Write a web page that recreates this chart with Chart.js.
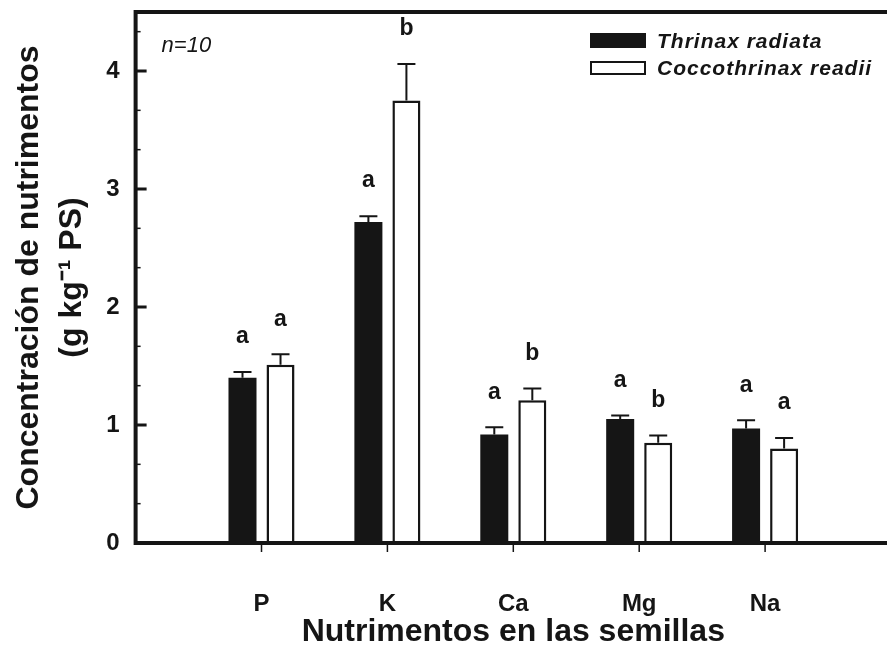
<!DOCTYPE html>
<html>
<head>
<meta charset="utf-8">
<script src="https://cdn.jsdelivr.net/npm/chart.js@4.4.0/dist/chart.umd.min.js"></script>
<style>
  html, body { margin: 0; padding: 0; background: #fff; overflow: hidden; }
  #wrap { width: 891px; height: 655px; }
</style>
</head>
<body>
<div id="wrap"><canvas id="nutriChart"></canvas></div>
<script>
const categories = ['P', 'K', 'Ca', 'Mg', 'Na'];
const thrinaxValues = [1.40, 2.72, 0.92, 1.05, 0.97];
const thrinaxErrors = [0.05, 0.05, 0.06, 0.03, 0.07];
const thrinaxLetters = ['a', 'a', 'a', 'a', 'a'];
const coccoValues = [1.51, 3.75, 1.21, 0.85, 0.80];
const coccoErrors = [0.09, 0.31, 0.10, 0.06, 0.09];
const coccoLetters = ['a', 'b', 'b', 'b', 'a'];
const yMax = 4.5;

const FONT = "'Liberation Sans', Arial, Helvetica, sans-serif";
const INK = '#151515';
Chart.defaults.font.family = FONT;
Chart.defaults.color = INK;

// the original axis leaves one empty slot on each side
const pad = arr => [null, ...arr, null];

const decorations = {
    id: 'decorations',
    afterDatasetsDraw(chart) {
        const { ctx, chartArea: a, scales: { x, y } } = chart;
        ctx.save();
        ctx.strokeStyle = INK;
        ctx.fillStyle = INK;
        ctx.lineCap = 'butt';

        // error bars (upper side only) and significance letters
        chart.data.datasets.forEach((ds, di) => {
            const meta = chart.getDatasetMeta(di);
            meta.data.forEach((bar, i) => {
                if (ds.data[i] == null) return;
                const top = y.getPixelForValue(ds.data[i] + ds.errors[i]);
                ctx.lineWidth = 2;
                ctx.beginPath();
                ctx.moveTo(bar.x, bar.y);
                ctx.lineTo(bar.x, top);
                ctx.moveTo(bar.x - 9, top);
                ctx.lineTo(bar.x + 9, top);
                ctx.stroke();
                ctx.font = `bold 23px ${FONT}`;
                ctx.textAlign = 'center';
                ctx.textBaseline = 'middle';
                ctx.fillText(ds.letters[i], bar.x, top - 35);
            });
        });

        // frame: top, left, bottom
        ctx.lineWidth = 4;
        ctx.lineJoin = 'miter';
        ctx.beginPath();
        ctx.moveTo(a.right + 4, a.top);
        ctx.lineTo(a.left, a.top);
        ctx.lineTo(a.left, a.bottom);
        ctx.lineTo(a.right + 4, a.bottom);
        ctx.stroke();

        // inward y ticks, major on integers and minor every third
        for (let k = 1; k / 3 < yMax; k++) {
            const py = y.getPixelForValue(k / 3);
            const len = k % 3 === 0 ? 11 : 5;
            ctx.lineWidth = k % 3 === 0 ? 3 : 1.5;
            ctx.beginPath();
            ctx.moveTo(a.left, py);
            ctx.lineTo(a.left + len, py);
            ctx.stroke();
        }

        // small x ticks below the baseline
        ctx.lineWidth = 1.5;
        categories.forEach((c, i) => {
            const px = x.getPixelForValue(i + 1);
            ctx.beginPath();
            ctx.moveTo(px, a.bottom + 2);
            ctx.lineTo(px, a.bottom + 9);
            ctx.stroke();
        });

        // n=10
        ctx.font = `italic 22px ${FONT}`;
        ctx.textAlign = 'left';
        ctx.textBaseline = 'middle';
        ctx.fillText('n=10', a.left + 26, a.top + 34);

        // legend
        const lx = 590, ly = [41, 68];
        ctx.font = `italic bold 21px ${FONT}`;
        ctx.letterSpacing = '1px';
        chart.data.datasets.forEach((ds, di) => {
            if (ds.backgroundColor === '#ffffff') {
                ctx.fillStyle = '#ffffff';
                ctx.fillRect(lx, ly[di] - 6, 56, 12);
                ctx.lineWidth = 2;
                ctx.strokeRect(lx + 1, ly[di] - 6, 54, 12);
            } else {
                ctx.fillStyle = ds.backgroundColor;
                ctx.fillRect(lx, ly[di] - 8, 56, 15);
            }
            ctx.fillStyle = INK;
            ctx.fillText(ds.label, lx + 67, ly[di] + 1);
        });
        ctx.restore();
    }
};

const ctx = document.querySelector('#nutriChart').getContext('2d');
const nutriChart = new Chart(ctx, {
    type: 'bar',
    data: {
        labels: pad(categories).map(c => c || ''),
        datasets: [
            { label: 'Thrinax radiata', data: pad(thrinaxValues), errors: pad(thrinaxErrors), letters: pad(thrinaxLetters),
              backgroundColor: INK, borderWidth: 0 },
            { label: 'Coccothrinax readii', data: pad(coccoValues), errors: pad(coccoErrors), letters: pad(coccoLetters),
              backgroundColor: '#ffffff', borderColor: INK, borderWidth: 2.5 }
        ]
    },
    options: {
        responsive: true,
        maintainAspectRatio: false,
        animation: false,
        devicePixelRatio: 1,
        categoryPercentage: 0.604,
        barPercentage: 0.737,
        layout: { padding: { top: 12, right: 0, left: 0, bottom: 0 } },
        plugins: { legend: { display: false }, tooltip: { enabled: false } },
        scales: {
            x: {
                offset: false,
                grid: { display: true, drawOnChartArea: false, drawTicks: true, tickLength: 49, color: 'transparent', tickColor: 'transparent' },
                border: { display: false },
                ticks: { autoSkip: false, maxRotation: 0, padding: 0, color: INK, font: { size: 24, weight: 'bold', lineHeight: 1 } },
                title: { display: true, text: 'Nutrimentos en las semillas', color: INK,
                         font: { size: 32, weight: 'bold', lineHeight: 1 }, padding: { top: 0, bottom: 7 } }
            },
            y: {
                min: 0,
                max: yMax,
                grid: { display: true, drawOnChartArea: false, drawTicks: true, tickLength: 16, color: 'transparent', tickColor: 'transparent' },
                border: { display: false },
                ticks: { stepSize: 1, includeBounds: false, padding: 0, color: INK,
                         font: { size: 24, weight: 'bold', lineHeight: 1 },
                         callback: v => Number.isInteger(v) ? v : '' },
                title: { display: true, text: ['Concentración de nutrimentos', '(g kg\u207B\u00B9 PS)'], color: INK,
                         font: { size: 32, weight: 'bold', lineHeight: 1.34 }, padding: { top: 7.5, bottom: 13 } }
            }
        }
    },
    plugins: [decorations]
});
</script>
</body>
</html>
